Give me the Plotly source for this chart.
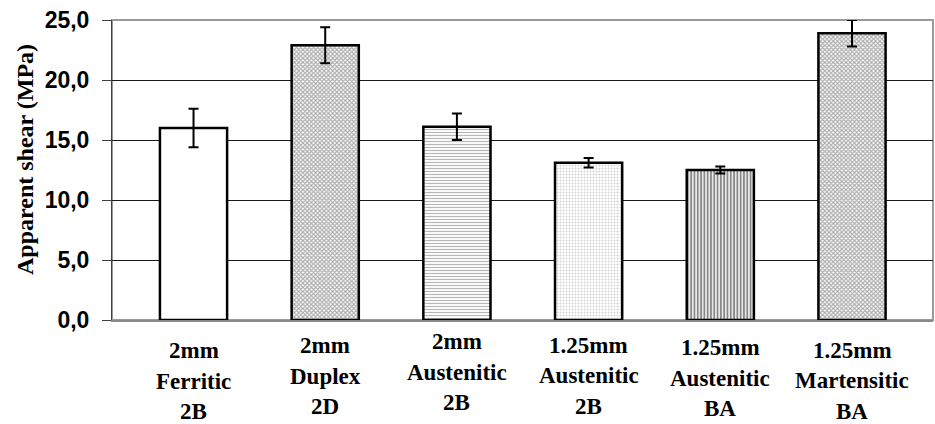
import plotly.graph_objects as go

# Apparent shear strength per steel grade / thickness / finish
line1 = ["2mm", "2mm", "2mm", "1.25mm", "1.25mm", "1.25mm"]
line2 = ["Ferritic", "Duplex", "Austenitic", "Austenitic", "Austenitic", "Martensitic"]
line3 = ["2B", "2D", "2B", "2B", "BA", "BA"]
shear_mpa = [16.0, 22.9, 16.1, 13.1, 12.5, 23.9]
shear_err = [1.6, 1.5, 1.1, 0.4, 0.3, 1.1]

x_pos = list(range(len(shear_mpa)))

# fill patterns for each bar
pat_shape = ["", "x", "-", ".", "|", "x"]
pat_fg = ["#000000", "#555555", "#707070", "#a8a8a8", "#111111", "#555555"]
pat_size = [4, 3, 3, 3, 3.3, 3]
pat_solid = [0.2, 0.6, 0.4, 0.35, 0.6, 0.6]

SERIF = "Liberation Serif, Times New Roman, Times, serif"
SANS = "Liberation Sans, Arial, Helvetica, sans-serif"

fig = go.Figure()
fig.add_trace(go.Bar(
    x=x_pos,
    y=shear_mpa,
    width=0.51,
    marker=dict(
        color="white",
        line=dict(color="black", width=2.5),
        pattern=dict(shape=pat_shape, fgcolor=pat_fg, bgcolor="white",
                     size=pat_size, solidity=pat_solid, fillmode="overlay"),
    ),
    error_y=dict(type="data", array=shear_err, visible=True,
                 color="black", thickness=2, width=5),
    cliponaxis=False,
    showlegend=False,
))

PLOT_LEFT, PLOT_RIGHT, PLOT_TOP, PLOT_BOTTOM = 112, 933, 20, 320
W, H = 935, 424

# multi-line category labels under the axis
top_line_px = [350.7, 345.6, 341.7, 345.0, 347.7, 350.0]
line_gap = 30.5
annotations = []
for i, lines in enumerate(zip(line1, line2, line3)):
    for j, txt in enumerate(lines):
        cy = top_line_px[i] + j * line_gap
        annotations.append(dict(
            x=x_pos[i], xref="x", y=0, yref="paper",
            yshift=-(cy - PLOT_BOTTOM), yanchor="middle", xanchor="center",
            text="<b>" + txt + "</b>", showarrow=False,
            font=dict(family=SERIF, size=23, color="black"),
        ))

# y axis title
annotations.append(dict(
    x=0, xref="paper", xshift=25 - PLOT_LEFT,
    y=0, yref="paper", yshift=PLOT_BOTTOM - 160,
    text="<b>Apparent shear (MPa)</b>", textangle=-90, showarrow=False,
    xanchor="center", yanchor="middle",
    font=dict(family=SERIF, size=24, color="black"),
))

fig.update_layout(
    width=W, height=H,
    margin=dict(l=PLOT_LEFT, r=W - PLOT_RIGHT, t=PLOT_TOP, b=H - PLOT_BOTTOM, pad=0),
    paper_bgcolor="white", plot_bgcolor="white",
    separators=", ",
    annotations=annotations,
    shapes=[dict(type="rect", xref="paper", yref="paper", x0=0, x1=1, y0=0, y1=1,
                 line=dict(color="#9a9a9a", width=2), layer="below")],
    xaxis=dict(
        range=[-0.619, 5.615], showticklabels=False, ticks="",
        showgrid=False, zeroline=False,
        showline=True, linecolor="#8a8a8a", linewidth=2,
    ),
    yaxis=dict(
        range=[0, 25], dtick=5, tick0=0, tickformat=".1f",
        showgrid=True, gridcolor="#1a1a1a", gridwidth=1, zeroline=False,
        showline=True, linecolor="#404040", linewidth=1,
        ticks="outside", ticklen=9, tickcolor="#404040", tickwidth=1,
        ticklabelstandoff=8,
        tickfont=dict(family=SANS, size=23, color="black", weight="bold"),
    ),
)

fig.write_html("out.html")
